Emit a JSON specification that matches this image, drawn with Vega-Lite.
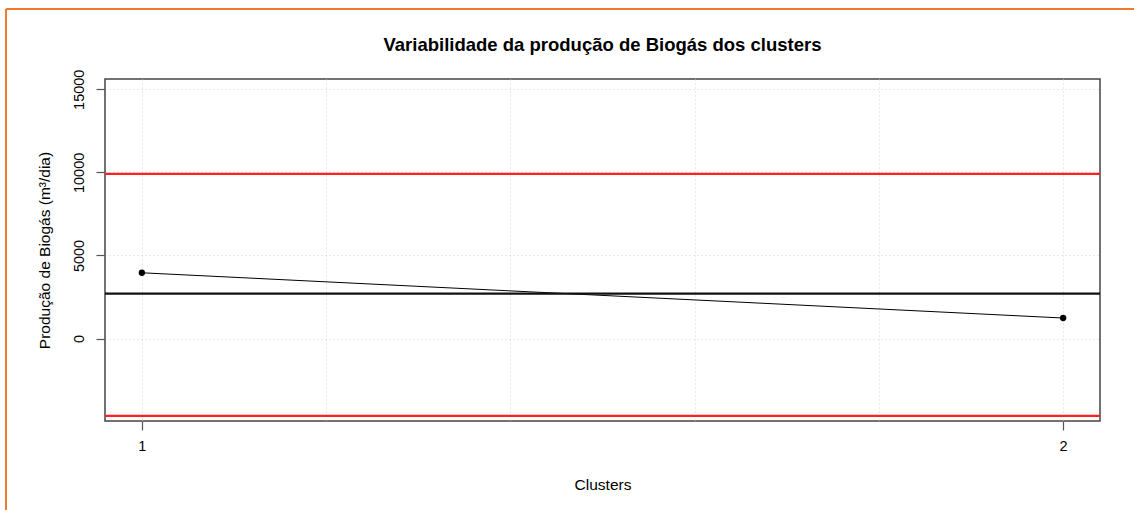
{
  "$schema": "https://vega.github.io/schema/vega-lite/v6.json",
  "autosize": {"type": "none"},
  "padding": {"left": 105, "top": 79, "right": 34, "bottom": 89},
  "width": 995,
  "height": 342,
  "background": "white",
  "title": {
    "text": "Variabilidade da produção de Biogás dos clusters",
    "font": "Liberation Sans",
    "fontSize": 18.5,
    "fontWeight": "bold",
    "color": "black",
    "anchor": "middle",
    "offset": -47
  },
  "config": {
    "view": {"stroke": "#444", "strokeWidth": 1.5},
    "font": "Liberation Sans",
    "axis": {
      "domain": false,
      "labelFont": "Liberation Sans",
      "labelFontSize": 14.5,
      "labelColor": "black",
      "titleFont": "Liberation Sans",
      "titleFontSize": 15.5,
      "titleFontWeight": "normal",
      "titleColor": "black",
      "tickColor": "#555",
      "tickSize": 9,
      "tickWidth": 1.2,
      "gridColor": "#d3d3d3",
      "gridDash": [1, 3],
      "gridWidth": 1
    }
  },
  "layer": [
    {
      "data": {"values": [
        {"cluster": 1, "producao": 3957},
        {"cluster": 2, "producao": 1235}
      ]},
      "mark": {"type": "line", "color": "black", "strokeWidth": 1},
      "encoding": {
        "x": {
          "field": "cluster", "type": "quantitative",
          "scale": {"domain": [0.96, 2.04], "nice": false, "zero": false},
          "axis": {
            "title": "Clusters",
            "values": [1, 1.2, 1.4, 1.6, 1.8, 2],
            "labelExpr": "(datum.value == 1 || datum.value == 2) ? format(datum.value, 'd') : ''",
            "tickOpacity": {"condition": {"test": "datum.value == 1 || datum.value == 2", "value": 1}, "value": 0},
            "labelPadding": 9,
            "titlePadding": 25,
            "grid": true
          }
        },
        "y": {
          "field": "producao", "type": "quantitative",
          "scale": {"domain": [-4962, 15618], "nice": false, "zero": false},
          "axis": {
            "title": "Produção de Biogás (m³/dia)",
            "values": [0, 5000, 10000, 15000],
            "format": "d",
            "labelAngle": 270,
            "labelAlign": "center",
            "labelBaseline": "bottom",
            "labelPadding": 10,
            "titlePadding": 19,
            "grid": true
          }
        }
      }
    },
    {
      "data": {"values": [
        {"cluster": 1, "producao": 3957},
        {"cluster": 2, "producao": 1235}
      ]},
      "mark": {"type": "point", "filled": true, "color": "black", "size": 40, "opacity": 1},
      "encoding": {
        "x": {"field": "cluster", "type": "quantitative"},
        "y": {"field": "producao", "type": "quantitative"}
      }
    },
    {
      "data": {"values": [
        {"limite": "LSC", "producao": 9904},
        {"limite": "LC", "producao": 2698},
        {"limite": "LIC", "producao": -4658}
      ]},
      "mark": {"type": "rule", "strokeWidth": 2.2},
      "encoding": {
        "y": {"field": "producao", "type": "quantitative"},
        "color": {
          "field": "limite", "type": "nominal",
          "scale": {"domain": ["LSC", "LC", "LIC"], "range": ["#ff2020", "#111111", "#ff2020"]},
          "legend": null
        }
      }
    },
    {
      "data": {"values": [{}]},
      "mark": {"type": "rule", "color": "#ef7a2c", "strokeWidth": 2, "clip": false},
      "encoding": {
        "x": {"datum": 0.85254, "type": "quantitative"},
        "y": {"datum": 19831, "type": "quantitative"},
        "y2": {"datum": -20000}
      }
    },
    {
      "data": {"values": [{}]},
      "mark": {"type": "rule", "color": "#ef7a2c", "strokeWidth": 2, "clip": false},
      "encoding": {
        "x": {"datum": 0.85254, "type": "quantitative"},
        "x2": {"datum": 3},
        "y": {"datum": 19831, "type": "quantitative"}
      }
    }
  ]
}
